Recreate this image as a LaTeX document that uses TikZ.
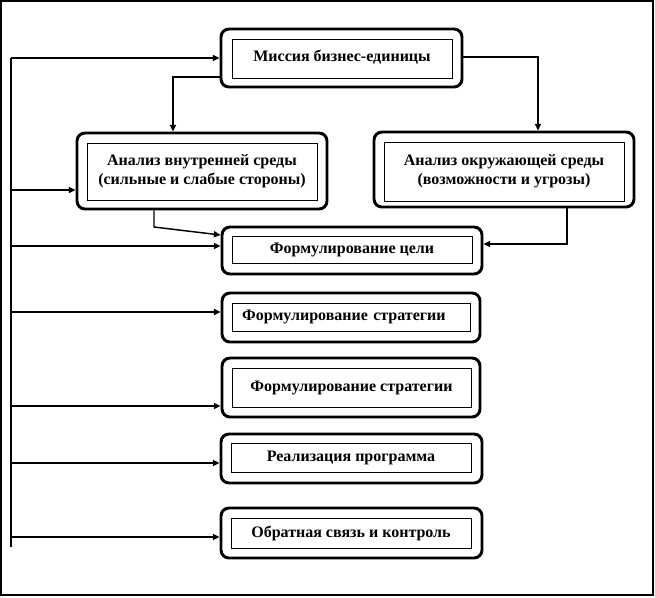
\documentclass[tikz,border=0pt]{standalone}
\usepackage{fontspec}
\setmainfont{Liberation Serif}
\usetikzlibrary{arrows.meta}
\tikzset{
  ob/.style={draw, line width=2.2pt, rounded corners=6pt, inner sep=0pt},
  ib/.style={draw, line width=0.6pt, inner sep=0pt, align=center, font=\bfseries\fontsize{12}{14.25}\selectfont},
  conn/.style={line width=1.1pt},
  arr/.style={conn, -{Triangle[length=5pt,width=4.5pt]}},
}
\begin{document}
\begin{tikzpicture}[x=0.75pt,y=-0.75pt]
\useasboundingbox (0,0) rectangle (655,597);
\draw[line width=0.8pt] (1,1) rectangle (653,595);

% mission
\node[ob, minimum width=180.75pt, minimum height=43.5pt] (mo) at (341.5,58) {};
\node[ib, minimum width=165pt, minimum height=29.25pt] (mi) at (342,58.5) {\raisebox{3.5pt}{Миссия бизнес-единицы}};

% analysis internal
\node[ob, minimum width=187.5pt, minimum height=57pt] (ao) at (202,171) {};
\node[ib, minimum width=172.5pt, minimum height=42.75pt] (ai) at (202,171.5) {Анализ внутренней среды\\(сильные и слабые стороны)};

% analysis external
\node[ob, minimum width=195pt, minimum height=56.25pt] (eo) at (504,169.5) {};
\node[ib, minimum width=180pt, minimum height=44.25pt] (ei) at (504,171.5) {Анализ окружающей среды\\(возможности и угрозы)};

% goal
\node[ob, minimum width=195pt, minimum height=35.25pt] (go) at (352,250.5) {};
\node[ib, minimum width=180pt, minimum height=20.25pt] (gi) at (352,249.5) {Формулирование цели};

% strategy 1
\node[ob, minimum width=193.5pt, minimum height=36.75pt] (s1o) at (351,317.5) {};
\node[ib, minimum height=21pt, align=left, text width=164pt, inner xsep=7.5pt] (s1i) at (351.5,317) {Формулирование стратегии};

% strategy 2
\node[ob, minimum width=193.5pt, minimum height=44.25pt] (s2o) at (351,387.5) {};
\node[ib, minimum width=179.25pt, minimum height=29.25pt] (s2i) at (351.5,387.5) {Формулирование стратегии};

% realization
\node[ob, minimum width=195.75pt, minimum height=36.75pt] (ro) at (351.5,458.5) {};
\node[ib, minimum width=180pt, minimum height=21.75pt] (ri) at (351,457.5) {Реализация программа};

% feedback
\node[ob, minimum width=195.75pt, minimum height=37.5pt] (fo) at (351.5,533) {};
\node[ib, minimum width=180pt, minimum height=22.5pt] (fi) at (351,533) {Обратная связь и контроль};

% trunk
\coordinate (tt) at (11,58);
\coordinate (tb) at (11,547);
\draw[conn] (tt) -- (tb);

\draw[arr] (tt) -- (mo.west |- tt);
\draw[arr] (tt |- 0,190) -- (ao.west |- 0,190);
\draw[arr] (tt |- 0,246) -- (go.west |- 0,246);
\draw[arr] (tt |- 0,312) -- (s1o.west |- 0,312);
\draw[arr] (tt |- 0,406) -- (s2o.west |- 0,406);
\draw[arr] (tt |- 0,463) -- (ro.west |- 0,463);
\draw[arr] (tt |- 0,537) -- (fo.west |- 0,537);

% mission to analyses
\draw[arr] (mo.west |- 0,77) -- (173,77) -- (173,0 |- ao.north);
\draw[arr] (mo.east |- 0,57) -- (538,57) -- (538,0 |- eo.north);

% analyses to goal
\draw[arr] (154,0 |- ao.south) -- (154,227) -- (go.west |- 0,235);
\draw[arr] (567,0 |- eo.south) -- (567,244) -- (go.east |- 0,244);
\end{tikzpicture}
\end{document}
